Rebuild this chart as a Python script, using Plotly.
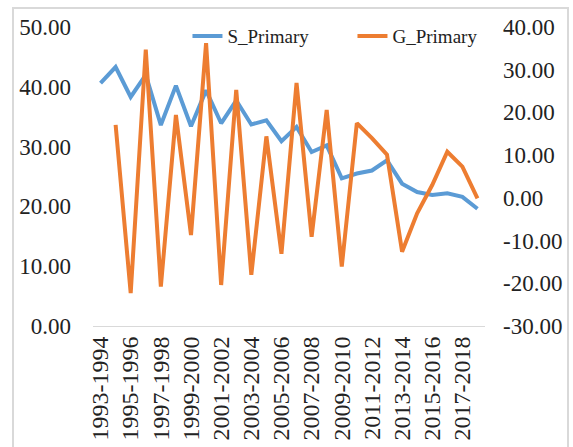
import plotly.graph_objects as go

years = [f"{y}-{y+1}" for y in range(1993, 2019)]
s_primary = [40.6, 43.3, 38.3, 42.0, 33.6, 40.2, 33.4, 39.4, 33.9, 37.7, 33.7, 34.4, 30.9,
             33.3, 29.1, 30.2, 24.7, 25.5, 26.0, 27.7, 23.8, 22.4, 21.9, 22.2, 21.6, 19.6]
g_primary = [None, 17.1, -22.3, 34.7, -20.8, 19.4, -8.7, 36.2, -20.4, 25.3, -18.0, 14.4, -13.1,
             26.9, -9.1, 20.6, -16.1, 17.5, 14.0, 10.1, -12.6, -3.6, 3.0, 10.8, 7.3, -0.1]
left_ticks = [0, 10, 20, 30, 40, 50]
right_ticks = [-30, -20, -10, 0, 10, 20, 30, 40]
shown_labels = years[::2]

FONT = "Liberation Serif, Times New Roman, serif"

fig = go.Figure()
fig.add_trace(go.Scatter(x=years, y=s_primary, name="S_Primary", mode="lines",
                         line=dict(color="#5B9BD5", width=4), yaxis="y"))
fig.add_trace(go.Scatter(x=years, y=g_primary, name="G_Primary", mode="lines",
                         line=dict(color="#ED7D31", width=4), yaxis="y2"))

fig.update_layout(
    width=573, height=447, autosize=False,
    margin=dict(l=93, r=88, t=27, b=121, autoexpand=False),
    paper_bgcolor="white", plot_bgcolor="white",
    font=dict(family=FONT, color="#222222"),
    showlegend=True,
    legend=dict(orientation="h", x=0.241, y=1.033, xanchor="left", yanchor="top",
                font=dict(size=19, family=FONT), bgcolor="rgba(0,0,0,0)",
                entrywidth=120, itemwidth=30, tracegroupgap=0),
    xaxis=dict(type="category", tickmode="array", tickvals=shown_labels, ticktext=shown_labels,
               tickangle=-90, tickfont=dict(size=24, family=FONT), showgrid=False,
               showline=True, linecolor="#D9D9D9", linewidth=1, ticks="", automargin=False,
               range=[-0.5, len(years) - 0.5], zeroline=False),
    yaxis=dict(range=[0, 50], tickvals=left_ticks, ticktext=[f"{v:.2f}" for v in left_ticks],
               tickfont=dict(size=23, family=FONT), showgrid=False, zeroline=False,
               showline=False, ticks="", ticklabelstandoff=21, automargin=False),
    yaxis2=dict(range=[-30, 40], tickvals=right_ticks, ticktext=[f"{v:.2f}" for v in right_ticks],
                overlaying="y", side="right", tickfont=dict(size=23, family=FONT),
                showgrid=False, zeroline=False, showline=False, ticks="", ticklabelstandoff=17,
                automargin=False),
    shapes=[dict(type="rect", xref="paper", yref="paper", x0=-80/392, x1=475/392,
                 y0=-130/299, y1=19/299 + 1, line=dict(color="#D9D9D9", width=2),
                 fillcolor="rgba(0,0,0,0)", layer="below")],
)

fig.write_html("out.html", config={"displayModeBar": False},
               post_script="document.body.style.margin='0px';document.body.style.overflow='hidden';")
